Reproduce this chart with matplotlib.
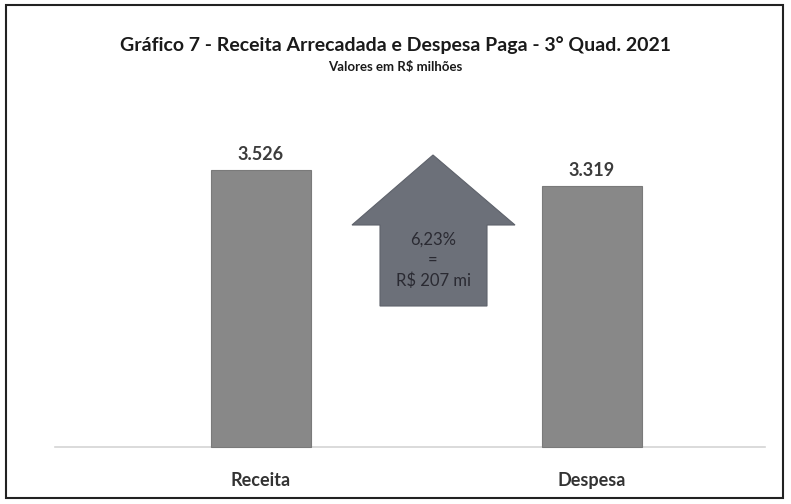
import matplotlib.pyplot as plt
from matplotlib.patches import Polygon, Rectangle

categories = ["Receita", "Despesa"]
values = [3526, 3319]
value_labels = ["3.526", "3.319"]
diff_pct = "6,23%"
diff_abs = "R\\$ 207 mi"

W, H = 791, 504
fig = plt.figure(figsize=(W / 100, H / 100), dpi=100)
fig.patch.set_facecolor("white")

# axes covering whole figure, scaled so bars land where they do in the original
px_per_unit = 331
base_px = 57
px_per_val = 277 / 3526
ax = fig.add_axes([0, 0, 1, 1])
ax.set_xlim(-261 / px_per_unit, (W - 261) / px_per_unit)
ax.set_ylim(-base_px / px_per_val, (H - base_px) / px_per_val)
ax.axis("off")

x = list(range(len(categories)))
ax.bar(x, values, width=0.3, color="#888888", edgecolor="#7a7a7a", linewidth=0.8, zorder=2)
ax.axhline(0, xmin=55 / W, xmax=765 / W, color="#d4d4d4", lw=1.2, zorder=1)

for xi, v, lab in zip(x, values, value_labels):
    ax.text(xi, v + 90, lab, ha="center", va="bottom", fontsize=13,
            fontweight="bold", color="#3c3c3c", family="Lato")

for xi, c in zip(x, categories):
    ax.text(xi, -430, c, ha="center", va="center", fontsize=13,
            fontweight="bold", color="#333333", family="Lato")

# arrow shape in figure pixels (converted to fractions)
pts = [(433, 155), (515, 225), (487, 225), (487, 306), (380, 306), (380, 225), (352, 225)]
arrow = Polygon([(px / W, 1 - py / H) for px, py in pts], closed=True,
                transform=fig.transFigure, facecolor="#6c7079", edgecolor="#5e626b", lw=0.8)
fig.patches.append(arrow)
for yy, s in [(240, diff_pct), (260, "="), (281, diff_abs)]:
    fig.text(433 / W, 1 - yy / H, s, ha="center", va="center", fontsize=12,
             color="#2a2a32", family="Lato")

fig.text(0.5, 1 - 45 / H, "Gráfico 7 - Receita Arrecadada e Despesa Paga - 3° Quad. 2021",
         ha="center", va="center", fontsize=14, fontweight="bold", color="#1a1a1a", family="Lato")
fig.text(0.5, 1 - 67 / H, "Valores em R\\$ milhões", ha="center", va="center",
         fontsize=9.5, fontweight="bold", color="#1a1a1a", family="Lato")

border = Rectangle((6 / W, 1 - 498 / H), 777 / W, 493 / H, transform=fig.transFigure,
                   fill=False, edgecolor="#222222", lw=1.5)
fig.patches.append(border)

fig.savefig("out.png", dpi=100, facecolor="white")
